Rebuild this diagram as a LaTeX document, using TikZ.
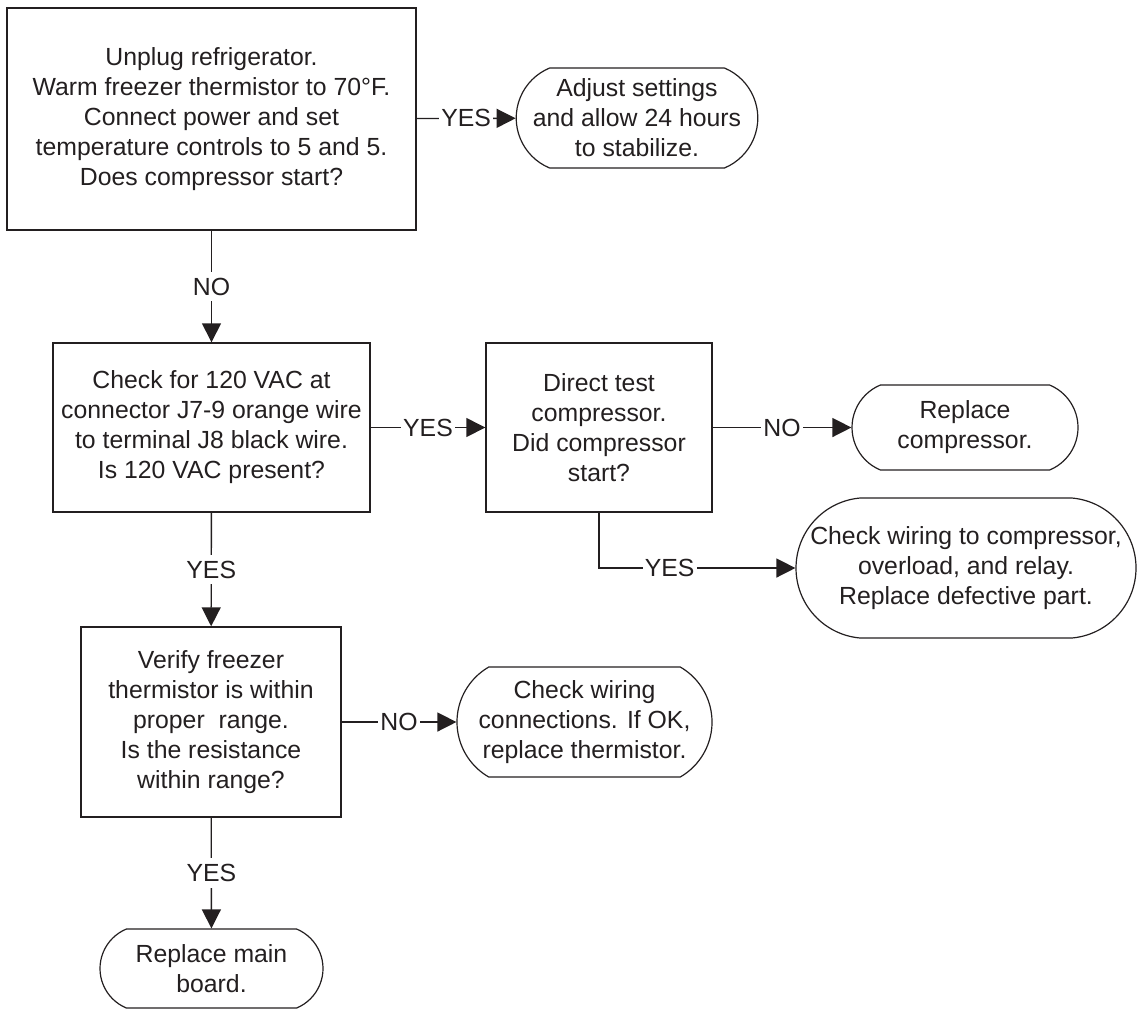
\documentclass[tikz,border=0pt]{standalone}
\usepackage{fontspec}
\setmainfont{Liberation Sans}
\usepackage{tikz}
\usetikzlibrary{arrows.meta, positioning, shapes.misc}
\definecolor{inkblack}{RGB}{35, 31, 32}
\tikzset{
  stepbox/.style={draw=inkblack, line width=0.7pt, rectangle, align=center, inner sep=0pt,
                  font=\fontsize{12.4}{15}\selectfont, text=inkblack},
  endbox/.style={draw=inkblack, line width=0.6pt, rounded rectangle, rounded rectangle arc length=135,
                 align=center, inner sep=0pt, font=\fontsize{12.4}{15}\selectfont, text=inkblack},
  flow/.style={draw=inkblack, line width=0.7pt, -{Triangle[length=9.5pt, width=9.5pt]}},
  answer/.style={fill=white, inner xsep=1pt, inner ysep=3pt, font=\fontsize{12.4}{15}\selectfont, text=inkblack}
}

\begin{document}
\begin{tikzpicture}[x=0.5pt, y=-0.5pt]
  \useasboundingbox (0,0) rectangle (1138,1013);

  % First check: does compressor start
  \node[stepbox, minimum width=204.5pt, minimum height=111pt] (unplug) at (211.5,119)
    {Unplug refrigerator.\\Warm freezer thermistor to 70°F.\\Connect power and set\\temperature controls to 5 and 5.\\Does compressor start?};
  \node[endbox, minimum width=110pt, minimum height=50pt] (adjust) at (637,118)
    {Adjust settings\\and allow 24 hours\\to stabilize.};

  % Voltage check
  \node[stepbox, minimum width=158.5pt, minimum height=84.5pt] (vac) at (211.5,427.5)
    {Check for 120 VAC at\\connector J7-9 orange wire\\to terminal J8 black wire.\\Is 120 VAC present?};
  \node[stepbox, minimum width=113pt, minimum height=84.5pt] (direct) at (599,427.5)
    {Direct test\\compressor.\\Did compressor\\start?};
  \node[endbox, minimum width=113pt, minimum height=42.5pt] (replcomp) at (965,427.5)
    {Replace\\compressor.};
  \node[endbox, rounded rectangle arc length=170, minimum width=170pt, minimum height=70pt] (wiring) at (966,568)
    {Check wiring to compressor,\\overload, and relay.\\Replace defective part.};

  % Thermistor check
  \node[stepbox, minimum width=130pt, minimum height=95pt] (thermo) at (211,722)
    {Verify freezer\\thermistor is within\\proper\ \ range.\\Is the resistance\\within range?};
  \node[endbox, rounded rectangle arc length=120, minimum width=127.5pt, minimum height=55pt] (connect) at (584.5,722)
    {Check wiring\\connections. If OK,\\replace thermistor.};
  \node[endbox, minimum width=111.5pt, minimum height=39.5pt] (board) at (211.5,968.5)
    {Replace main\\board.};

  % Connectors
  \draw[flow] (unplug) -- node[answer]{YES} (adjust);
  \draw[flow] (unplug) -- node[answer]{NO} (vac);
  \draw[flow] (vac) -- node[answer]{YES} (direct);
  \draw[flow] (direct) -- node[answer]{NO} (replcomp);
  \draw[flow] (direct.south) |- node[answer, pos=0.68]{YES} (wiring.west);
  \draw[flow] (vac) -- node[answer]{YES} (thermo);
  \draw[flow] (thermo) -- node[answer]{NO} (connect);
  \draw[flow] (thermo) -- node[answer]{YES} (board);
\end{tikzpicture}
\end{document}
